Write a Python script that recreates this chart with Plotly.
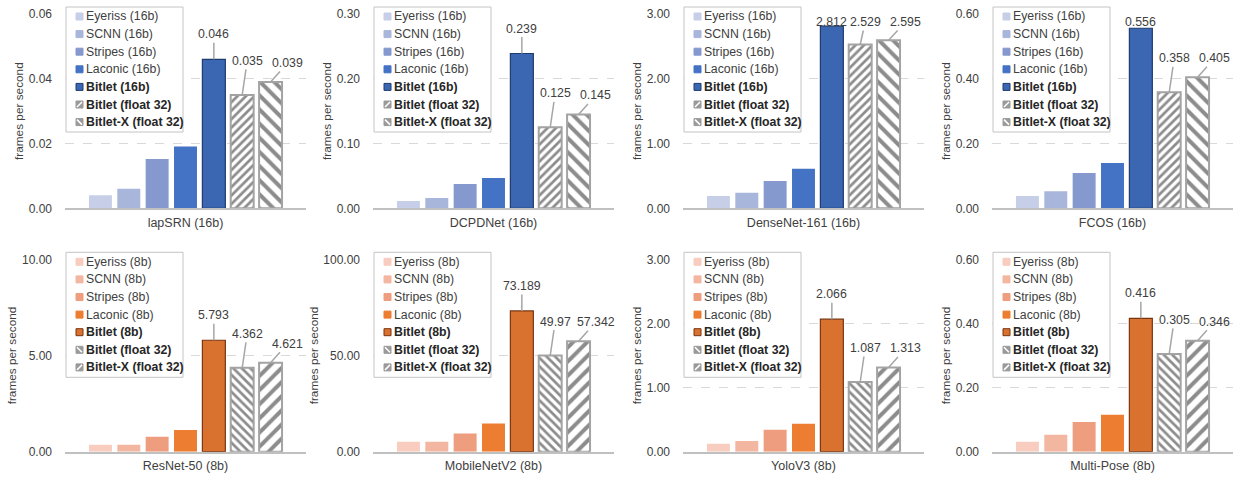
import plotly.graph_objects as go

W, H = 1239, 477

networks = ["lapSRN (16b)", "DCPDNet (16b)", "DenseNet-161 (16b)", "FCOS (16b)",
            "ResNet-50 (8b)", "MobileNetV2 (8b)", "YoloV3 (8b)", "Multi-Pose (8b)"]

series_16 = ["Eyeriss (16b)", "SCNN (16b)", "Stripes (16b)", "Laconic (16b)",
             "Bitlet (16b)", "Bitlet (float 32)", "Bitlet-X (float 32)"]
series_8 = ["Eyeriss (8b)", "SCNN (8b)", "Stripes (8b)", "Laconic (8b)",
            "Bitlet (8b)", "Bitlet (float 32)", "Bitlet-X (float 32)"]

lapsrn = [0.004, 0.006, 0.0152, 0.0191, 0.046, 0.035, 0.039]
dcpdnet = [0.0113, 0.0159, 0.0375, 0.0468, 0.239, 0.125, 0.145]
densenet161 = [0.19, 0.24, 0.42, 0.61, 2.812, 2.529, 2.595]
fcos = [0.038, 0.053, 0.109, 0.140, 0.556, 0.358, 0.405]
resnet50 = [0.36, 0.36, 0.78, 1.13, 5.793, 4.362, 4.621]
mobilenetv2 = [5.2, 5.2, 9.4, 14.6, 73.189, 49.97, 57.342]
yolov3 = [0.125, 0.167, 0.343, 0.437, 2.066, 1.087, 1.313]
multipose = [0.031, 0.053, 0.093, 0.115, 0.416, 0.305, 0.346]

panel_values = [lapsrn, dcpdnet, densenet161, fcos, resnet50, mobilenetv2, yolov3, multipose]
label_text = [
    ["0.046", "0.035", "0.039"], ["0.239", "0.125", "0.145"],
    ["2.812", "2.529", "2.595"], ["0.556", "0.358", "0.405"],
    ["5.793", "4.362", "4.621"], ["73.189", "49.97", "57.342"],
    ["2.066", "1.087", "1.313"], ["0.416", "0.305", "0.346"],
]
y_max = [0.06, 0.30, 3.0, 0.60, 10.0, 100.0, 3.0, 0.60]
y_step = [0.02, 0.10, 1.0, 0.20, 5.0, 50.0, 1.0, 0.20]

# ---- styles ----
blue_fill = ["#c7cfe8", "#a9b6db", "#8599cf", "#4472c4", "#3a66b2", "white", "white"]
orange_fill = ["#f8cdbf", "#f3b6a0", "#ee9e7f", "#ed7d31", "#d9722e", "white", "white"]
hatch = "#8c8c8c"
hatch_edge = "#a3a3a3"
FONT = "Liberation Sans, Arial, sans-serif"
TXT = "#404040"

col_x0 = [65, 373, 683, 992]
col_w = 241
row_y = [(14, 208.3), (259.3, 451.7)]


def px_x(v):
    return v / W


def px_y(v):
    return 1 - v / H


fig = go.Figure()
annotations = []
shapes = []

for p in range(8):
    r, c = divmod(p, 4)
    top_row = r == 0
    names = series_16 if top_row else series_8
    fills = blue_fill if top_row else orange_fill
    bitlet_edge = "#1f3a6e" if top_row else "#7a3510"
    pat_f = ("/", 6) if top_row else ("\\", 6)
    pat_x = ("\\", 10) if top_row else ("/", 10)
    ax_id = "" if p == 0 else str(p + 1)
    vals = panel_values[p]
    for i, (nm, v) in enumerate(zip(names, vals)):
        marker = dict(color=fills[i], line=dict(width=0))
        if i == 4:
            marker["line"] = dict(color=bitlet_edge, width=1.2)
        if i >= 5:
            sh, sz = pat_f if i == 5 else pat_x
            marker = dict(color="white", line=dict(color=hatch_edge, width=2),
                          pattern=dict(shape=sh, size=sz, solidity=0.45 if i == 5 else 0.4,
                                       fgcolor=hatch, bgcolor="white", fillmode="replace"))
        fig.add_trace(go.Bar(x=[nm], y=[v], name=nm, width=0.81, marker=marker,
                             xaxis="x" + ax_id, yaxis="y" + ax_id, showlegend=False,
                             hoverinfo="skip"))

    x0 = col_x0[c]
    yt, yb = row_y[r]
    ph = yb - yt
    fig.update_layout(**{
        "xaxis" + ax_id: dict(domain=[x0 / W, (x0 + col_w) / W], anchor="y" + ax_id,
                              type="category", categoryorder="array", categoryarray=names,
                              range=[-1.25, 7.25], showticklabels=False, ticks="",
                              showgrid=False, showline=True, linecolor="#c0c0c0", linewidth=2,
                              automargin=False,
                              title=dict(text=networks[p], standoff=9,
                                         font=dict(family=FONT, size=12.5, color=TXT)),
                              fixedrange=True),
        "yaxis" + ax_id: dict(domain=[1 - yb / H, 1 - yt / H], anchor="x" + ax_id,
                              range=[0, y_max[p]], dtick=y_step[p], tick0=0, tickformat=".2f",
                              showgrid=True, gridcolor="#d9d9d9", griddash="dash", gridwidth=1,
                              zeroline=False, showline=False, ticks="",
                              ticklabelstandoff=12, automargin=False,
                              tickfont=dict(family=FONT, size=12, color=TXT),
                              title=dict(text="frames per second", standoff=2,
                                         font=dict(family=FONT, size=11.8, color=TXT)),
                              fixedrange=True),
    })

    # ---- legend box (drawn per panel, from the series lists and colours) ----
    box_top = yt - 7
    box_l, box_r = x0 + 1, x0 + 118
    shapes.append(dict(type="rect", xref="paper", yref="paper",
                       x0=px_x(box_l), x1=px_x(box_r), y0=px_y(box_top), y1=px_y(box_top + 125),
                       line=dict(color="#c4c4c4", width=1), fillcolor="white", layer="above"))
    for i, nm in enumerate(names):
        cy = box_top + 9.5 + i * 17.6
        sx0, sx1 = x0 + 11, x0 + 18
        if i < 5:
            shapes.append(dict(type="rect", xref="paper", yref="paper",
                               x0=px_x(sx0), x1=px_x(sx1), y0=px_y(cy - 3.5), y1=px_y(cy + 3.5),
                               fillcolor=fills[i],
                               line=dict(color=bitlet_edge if i == 4 else fills[i], width=1),
                               layer="above"))
        else:
            shapes.append(dict(type="rect", xref="paper", yref="paper",
                               x0=px_x(sx0), x1=px_x(sx1), y0=px_y(cy - 3.5), y1=px_y(cy + 3.5),
                               fillcolor="#9a9a9a", line=dict(color="#9a9a9a", width=1),
                               layer="above"))
            sh = (pat_f if i == 5 else pat_x)[0]
            if sh == "/":
                lx0, ly0, lx1, ly1 = sx0 + 1, cy + 2.5, sx1 - 1, cy - 2.5
            else:
                lx0, ly0, lx1, ly1 = sx0 + 1, cy - 2.5, sx1 - 1, cy + 2.5
            shapes.append(dict(type="line", xref="paper", yref="paper",
                               x0=px_x(lx0), x1=px_x(lx1), y0=px_y(ly0), y1=px_y(ly1),
                               line=dict(color="white", width=1.5), layer="above"))
        annotations.append(dict(xref="paper", yref="paper", x=px_x(x0 + 19), y=px_y(cy),
                                xanchor="left", yanchor="middle", showarrow=False,
                                text=f"<b>{nm}</b>" if i >= 4 else nm,
                                font=dict(family=FONT, size=12.3,
                                          color="#262626" if i >= 4 else TXT)))

    # ---- data labels with leader lines for the last three bars ----
    offsets = [(0, -25), (5, -34), (17, -19)]
    for k, idx in enumerate([4, 5, 6]):
        v = vals[idx]
        top_px = yt + (1 - v / y_max[p]) * ph
        dx, dy = offsets[k]
        lab_px = max(top_px + dy, yt + 8)
        dy_eff = lab_px - top_px
        base = dict(x=names[idx], y=v, xref="x" + ax_id, yref="y" + ax_id,
                    text=label_text[p][k], font=dict(family=FONT, size=12.3, color=TXT))
        if -dy_eff < 13:
            annotations.append(dict(**base, showarrow=False, yshift=-dy_eff,
                                    xshift=dx if k else 0))
        else:
            annotations.append(dict(**base, showarrow=True, arrowhead=0, arrowwidth=1.5,
                                    arrowcolor="#a6a6a6", ax=dx, ay=dy_eff, standoff=0,
                                    startstandoff=0))

fig.update_layout(width=W, height=H,
                  margin=dict(l=0, r=0, t=0, b=0, pad=0, autoexpand=False),
                  paper_bgcolor="white", plot_bgcolor="white", barmode="overlay",
                  showlegend=False, annotations=annotations, shapes=shapes,
                  font=dict(family=FONT, color=TXT))

fig.write_html("out.html", config={"displayModeBar": False},
               post_script="document.body.style.margin='0';document.body.style.overflow='hidden';")
